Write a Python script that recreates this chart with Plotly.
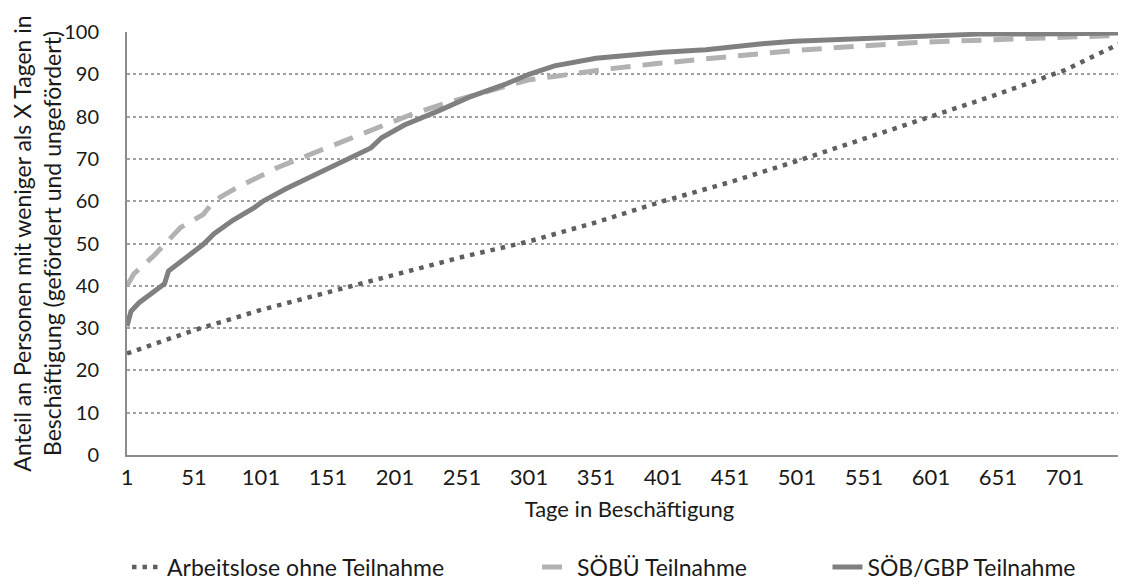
import plotly.graph_objects as go

# Tage / Anteile
days_alo = [1, 51, 101, 151, 201, 251, 301, 351, 401, 451, 501, 551, 601, 651, 701, 750]
alo = [24, 29.5, 34.3, 38.5, 42.8, 46.8, 50.5, 55, 60, 64.5, 69.5, 74.8, 80, 85.3, 91, 98.5]

days_sobu = [1, 6, 21, 41, 58, 66, 83, 113, 138, 163, 183, 191, 213, 240, 260, 283, 301,
             320, 358, 395, 438, 467, 498, 526, 554, 584, 614, 645, 675, 705, 750]
sobu = [40, 42.8, 47.1, 53.8, 56.9, 60.1, 63.2, 67.9, 71.1, 74.2, 76.5, 77.8, 80.5, 83.3, 85, 87, 88.7,
        89.5, 91.2, 92.5, 93.9, 94.7, 95.6, 96.2, 96.9, 97.4, 97.8, 98.2, 98.6, 99, 99.3]

days_gbp = [1, 4, 10, 20, 29, 32, 45, 58, 66, 80, 96, 103, 120, 133, 158, 183, 191, 208, 233, 258,
            283, 301, 320, 351, 380, 401, 433, 455, 475, 499, 532, 562, 597, 637, 700, 750]
gbp = [30.5, 34, 36, 38.5, 40.5, 43.5, 46.5, 49.8, 52.3, 55.5, 58.5, 60.1, 63, 65, 69, 72.6, 75, 78, 81.3, 84.8,
       87.6, 90, 92, 93.8, 94.6, 95.2, 95.8, 96.6, 97.2, 97.8, 98.2, 98.8, 99.2, 99.5, 99.6, 99.8]

x_ticks = list(range(1, 702, 50))
y_ticks = list(range(0, 101, 10))

font_name = "Lato"
text_color = "#1a1a1a"

fig = go.Figure()
fig.add_trace(go.Scatter(
    x=days_alo, y=alo, mode="lines", name="Arbeitslose ohne Teilnahme",
    line=dict(color="#5f5f5f", width=4.5, dash="4.5px,6px"),
    legend="legend",
))
fig.add_trace(go.Scatter(
    x=days_sobu, y=sobu, mode="lines", name="SÖBÜ Teilnahme",
    line=dict(color="#b2b2b2", width=5, dash="20px,12px"),
    legend="legend2",
))
fig.add_trace(go.Scatter(
    x=days_gbp, y=gbp, mode="lines", name="SÖB/GBP Teilnahme",
    line=dict(color="#808080", width=5),
    legend="legend3",
))

leg = dict(orientation="h", y=-0.265, yanchor="middle", xanchor="left",
           font=dict(size=23, color=text_color), bgcolor="rgba(0,0,0,0)")

fig.update_layout(
    width=1126, height=588,
    margin=dict(l=119, r=2, t=24, b=141, autoexpand=False),
    plot_bgcolor="white", paper_bgcolor="white",
    font=dict(family=font_name, size=20, color=text_color),
    legend=dict(leg, x=0.0),
    legend2=dict(leg, x=0.408),
    legend3=dict(leg, x=0.697),
    showlegend=True,
)
fig.update_xaxes(
    range=[1, 751], tickvals=x_ticks, ticktext=[str(t) for t in x_ticks],
    showgrid=False, showline=True, linecolor="#8c8c8c", linewidth=2,
    ticks="outside", ticklen=2, tickcolor="rgba(0,0,0,0)",
    zeroline=False, tickfont=dict(size=22),
    title=dict(text="Tage in Beschäftigung", font=dict(size=22), standoff=12),
)
fig.update_yaxes(
    range=[0, 100], tickvals=y_ticks,
    showgrid=True, gridcolor="#a0a0a0", griddash="dot", gridwidth=1.5,
    showline=True, linecolor="#8c8c8c", linewidth=2, zeroline=False,
    ticks="outside", ticklen=22, tickcolor="rgba(0,0,0,0)",
    tickfont=dict(size=20),
    title=dict(text="Anteil an Personen mit weniger als X Tagen in<br>Beschäftigung (gefördert und ungefördert)",
               font=dict(size=23), standoff=6),
)

fig.write_html("out.html")
